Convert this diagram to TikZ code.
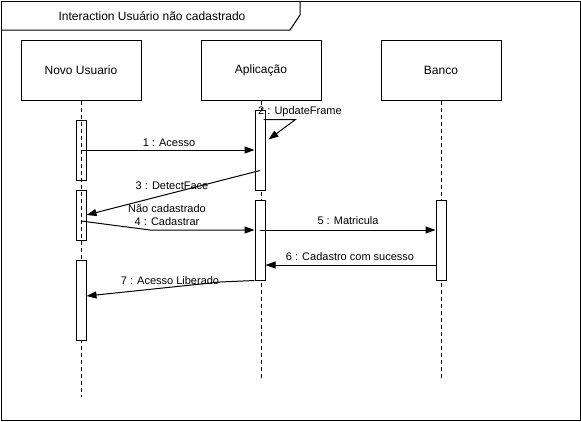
\documentclass[tikz,border=0pt]{standalone}
\usepackage{fontspec}
\setmainfont{Liberation Sans}
\usetikzlibrary{arrows.meta,calc,positioning}
\begin{document}
\begin{tikzpicture}[x=1pt,y=-1pt,line width=1pt]
\tikzstyle{every node}+=[inner sep=0pt]
\tikzstyle{head}=[draw,minimum width=120pt,minimum height=60pt,font=\fontsize{12}{14}\selectfont]
\tikzstyle{bar}=[draw,fill=white,minimum width=10pt]
\tikzstyle{life}=[dash pattern=on 4pt off 3pt]
\tikzstyle{msg}=[-{Triangle[length=10pt,width=7pt]}]
\tikzstyle{lbl}=[font=\fontsize{11}{13}\selectfont]
\useasboundingbox (0,0) rectangle (581,421);
\draw (1,1) rectangle (580,420);
\draw (1,30) -- (290,30) -- (300,15) -- (300,1);
\node[font=\fontsize{12}{14}\selectfont] (title) at (152,16) {Interaction Usuário não cadastrado};
% lifelines
\node[head] (user) at (81,70) {Novo Usuario};
\node[head] (app) at (261,70) {Aplicação};
\node[head] (db) at (441,70) {Banco};
\coordinate (userend) at (81,397);
\coordinate (append) at (261,380);
\coordinate (dbend) at (441,380);
\draw[life] (user.south) -- (userend);
\draw[life] (app.south) -- (append);
\draw[life] (db.south) -- (dbend);
% activations
\node[bar,fill=none,minimum height=60pt] (u1) at (81,150) {};
\node[bar,fill=none,minimum height=50pt] (u2) at (81,215) {};
\node[bar,minimum height=80pt] (u3) at (81,300) {};
\node[bar,minimum height=80pt] (a1) at (260,150) {};
\node[bar,minimum height=80pt] (a2) at (260,240) {};
\node[bar,minimum height=80pt] (b1) at (441,240) {};
% messages
\draw[msg] (u1.center) -- (a1.west);
\draw (169,143) node[lbl] {1 : Acesso};
\draw[msg] ($(a1.north east)+(-2,10)$) -- ++(32,0) -- ($(a1.north east)+(3,30)$);
\draw (300,112) node[lbl] {2 : UpdateFrame};
\draw[msg] ($(a1.south)+(0,-20)$) -- (u2.east);
\draw (172,186) node[lbl] {3 : DetectFace};
\draw (167,209) node[lbl] {Não cadastrado};
\draw[msg] ($(u2.center)+(0,6)$) -- (150,230) -- ($(a2.west)+(0,-10)$);
\draw (167,222) node[lbl] {4 : Cadastrar};
\draw[msg] ($(a2.center)+(0,-10)$) -- ($(b1.west)+(0,-10)$);
\draw (348,221) node[lbl] {5 : Matricula};
\draw[msg] ($(b1.west)+(0,25)$) -- ($(a2.east)+(0,25)$);
\draw (350,257) node[lbl] {6 : Cadastro com sucesso};
\draw[msg] (a2.south west) -- (220,282) -- ($(u3.east)+(0,-4)$);
\draw (170,281) node[lbl] {7 : Acesso Liberado};
\end{tikzpicture}
\end{document}
